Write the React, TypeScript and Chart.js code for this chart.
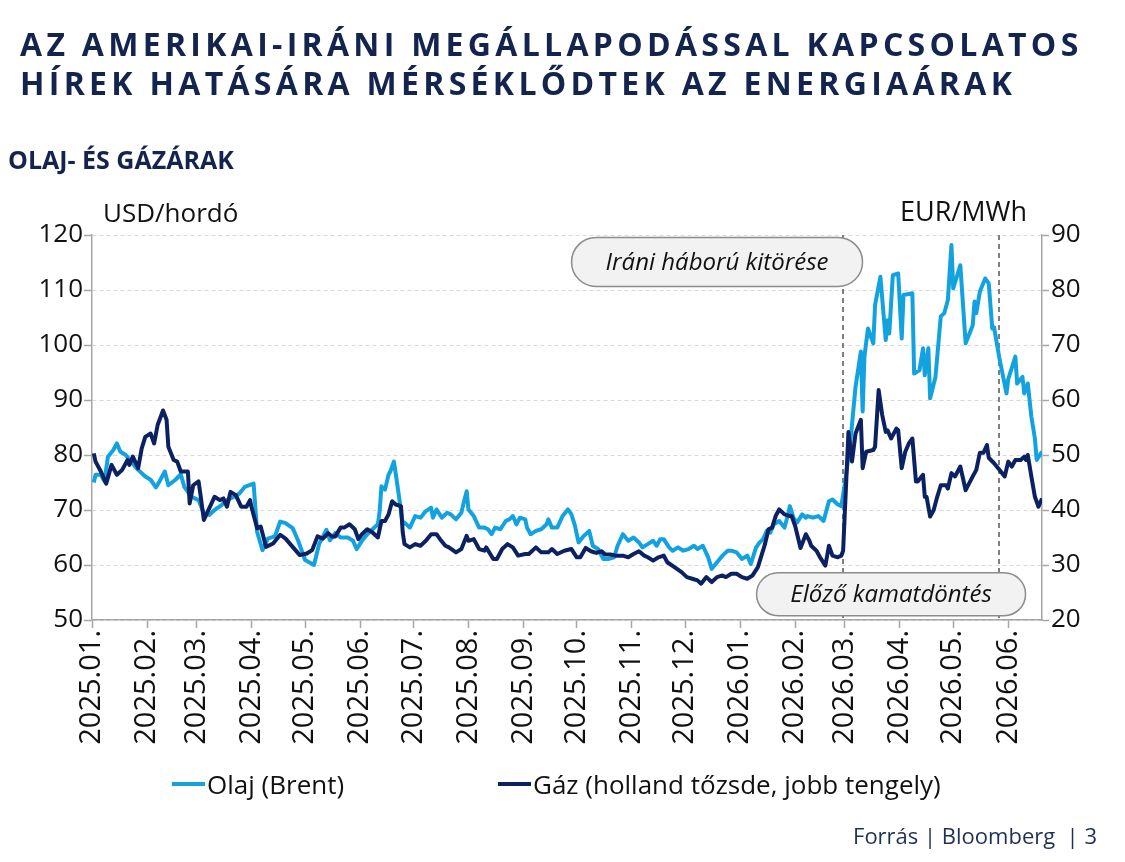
import React, { useEffect, useRef } from "react";
import { Chart, registerables } from "chart.js";

Chart.register(...registerables);

// ---------- texts ----------
const titleLines = [
  "AZ AMERIKAI-IRÁNI MEGÁLLAPODÁSSAL KAPCSOLATOS",
  "HÍREK HATÁSÁRA MÉRSÉKLŐDTEK AZ ENERGIAÁRAK",
];
const subtitle = "OLAJ- ÉS GÁZÁRAK";
const leftUnit = "USD/hordó";
const rightUnit = "EUR/MWh";
const oilLabel = "Olaj (Brent)";
const gasLabel = "Gáz (holland tőzsde, jobb tengely)";
const sourceText = "Forrás | Bloomberg  | 3";

// ---------- axes ----------
const leftTicks = [50, 60, 70, 80, 90, 100, 110, 120];
const rightTicks = [20, 30, 40, 50, 60, 70, 80, 90];
const monthTicks = [
  "2025-01-01", "2025-02-01", "2025-03-01", "2025-04-01", "2025-05-01", "2025-06-01",
  "2025-07-01", "2025-08-01", "2025-09-01", "2025-10-01", "2025-11-01", "2025-12-01",
  "2026-01-01", "2026-02-01", "2026-03-01", "2026-04-01", "2026-05-01", "2026-06-01",
];
const xStart = "2025-01-01";
const xEnd = "2026-06-20";

// ---------- events ----------
const eventDates = ["2026-02-28", "2026-05-27"];
const annotationTexts = ["Iráni háború kitörése", "Előző kamatdöntés"];
const annotationDates = ["2025-12-19", "2026-03-27"];
const annotationValues = [115.1, 54.7];

// ---------- data: Brent (USD/barrel) ----------
const oilSeries: [string, number][] = [
  ["2025-01-02", 75.0], ["2025-01-03", 76.4], ["2025-01-06", 76.4], ["2025-01-08", 75.2],
  ["2025-01-10", 79.7], ["2025-01-13", 80.9], ["2025-01-15", 82.1], ["2025-01-17", 80.6],
  ["2025-01-20", 80.0], ["2025-01-23", 78.8], ["2025-01-27", 77.3], ["2025-01-31", 76.1],
  ["2025-02-03", 75.5], ["2025-02-06", 74.1], ["2025-02-08", 75.2], ["2025-02-11", 77.0],
  ["2025-02-13", 74.5], ["2025-02-17", 75.5], ["2025-02-20", 76.5], ["2025-02-22", 74.2],
  ["2025-02-26", 72.4], ["2025-03-02", 71.8], ["2025-03-05", 69.4], ["2025-03-08", 69.1],
  ["2025-03-11", 70.0], ["2025-03-15", 70.9], ["2025-03-18", 71.8], ["2025-03-22", 72.4],
  ["2025-03-25", 73.0], ["2025-03-28", 74.2], ["2025-04-02", 74.8], ["2025-04-04", 66.0],
  ["2025-04-07", 62.7], ["2025-04-10", 64.8], ["2025-04-14", 65.2], ["2025-04-17", 67.9],
  ["2025-04-20", 67.6], ["2025-04-24", 66.7], ["2025-04-27", 64.5], ["2025-05-01", 60.9],
  ["2025-05-06", 60.0], ["2025-05-09", 63.9], ["2025-05-13", 66.4], ["2025-05-15", 64.5],
  ["2025-05-18", 65.8], ["2025-05-21", 65.0], ["2025-05-25", 65.0], ["2025-05-28", 64.4],
  ["2025-05-30", 62.9], ["2025-06-02", 64.4], ["2025-06-05", 65.6], ["2025-06-08", 66.5],
  ["2025-06-11", 67.4], ["2025-06-12", 69.8], ["2025-06-13", 74.3], ["2025-06-15", 73.7],
  ["2025-06-17", 76.4], ["2025-06-18", 77.0], ["2025-06-20", 78.8], ["2025-06-21", 76.7],
  ["2025-06-23", 72.2], ["2025-06-25", 67.4], ["2025-06-26", 67.7], ["2025-06-29", 66.8],
  ["2025-07-02", 68.9], ["2025-07-05", 68.6], ["2025-07-08", 69.8], ["2025-07-11", 70.4],
  ["2025-07-12", 68.6], ["2025-07-14", 70.1], ["2025-07-17", 68.6], ["2025-07-20", 69.5],
  ["2025-07-22", 69.2], ["2025-07-25", 68.3], ["2025-07-28", 69.5], ["2025-07-30", 72.2],
  ["2025-07-31", 73.4], ["2025-08-01", 70.1], ["2025-08-04", 68.9], ["2025-08-07", 66.8],
  ["2025-08-10", 66.8], ["2025-08-12", 66.5], ["2025-08-14", 65.6], ["2025-08-16", 66.8],
  ["2025-08-19", 66.5], ["2025-08-22", 68.0], ["2025-08-24", 68.3], ["2025-08-26", 68.9],
  ["2025-08-28", 67.4], ["2025-08-30", 68.6], ["2025-09-02", 68.3], ["2025-09-03", 66.8],
  ["2025-09-05", 65.6], ["2025-09-08", 66.2], ["2025-09-11", 66.5], ["2025-09-14", 67.4],
  ["2025-09-15", 68.3], ["2025-09-17", 66.8], ["2025-09-20", 66.8], ["2025-09-23", 68.9],
  ["2025-09-26", 70.1], ["2025-09-28", 69.2], ["2025-09-30", 67.1], ["2025-10-02", 64.1],
  ["2025-10-05", 65.3], ["2025-10-08", 66.2], ["2025-10-10", 63.5], ["2025-10-13", 62.9],
  ["2025-10-16", 61.1], ["2025-10-19", 61.1], ["2025-10-22", 61.4], ["2025-10-24", 63.5],
  ["2025-10-27", 65.6], ["2025-10-30", 64.4], ["2025-11-02", 65.0], ["2025-11-05", 64.1],
  ["2025-11-07", 63.2], ["2025-11-10", 63.8], ["2025-11-13", 64.4], ["2025-11-15", 63.5],
  ["2025-11-17", 64.7], ["2025-11-19", 64.7], ["2025-11-22", 63.2], ["2025-11-24", 62.6],
  ["2025-11-27", 63.2], ["2025-11-30", 62.6], ["2025-12-03", 62.9], ["2025-12-06", 63.5],
  ["2025-12-08", 62.9], ["2025-12-11", 63.5], ["2025-12-14", 61.4], ["2025-12-16", 59.3],
  ["2025-12-19", 60.5], ["2025-12-22", 61.7], ["2025-12-25", 62.6], ["2025-12-27", 62.6],
  ["2025-12-30", 62.3], ["2026-01-02", 61.1], ["2026-01-05", 61.7], ["2026-01-07", 60.2],
  ["2026-01-10", 63.2], ["2026-01-12", 64.1], ["2026-01-14", 64.7], ["2026-01-16", 66.2],
  ["2026-01-18", 65.9], ["2026-01-20", 67.4], ["2026-01-23", 68.0], ["2026-01-26", 66.8],
  ["2026-01-28", 69.2], ["2026-01-29", 70.7], ["2026-01-31", 68.6], ["2026-02-02", 67.7],
  ["2026-02-05", 69.2], ["2026-02-07", 68.6], ["2026-02-08", 68.9], ["2026-02-11", 68.6],
  ["2026-02-14", 68.9], ["2026-02-17", 68.0], ["2026-02-20", 71.6], ["2026-02-22", 71.9],
  ["2026-02-25", 71.0], ["2026-02-27", 70.7], ["2026-03-01", 74.8], ["2026-03-04", 82.1],
  ["2026-03-07", 92.4], ["2026-03-10", 98.8], ["2026-03-11", 87.9], ["2026-03-12", 97.9],
  ["2026-03-14", 103.0], ["2026-03-17", 100.3], ["2026-03-18", 107.3], ["2026-03-21", 112.4],
  ["2026-03-24", 100.9], ["2026-03-25", 104.5], ["2026-03-26", 102.1], ["2026-03-28", 112.7],
  ["2026-03-31", 113.0], ["2026-04-02", 101.2], ["2026-04-03", 109.1], ["2026-04-08", 109.4],
  ["2026-04-09", 94.8], ["2026-04-12", 95.4], ["2026-04-14", 99.4], ["2026-04-15", 94.5],
  ["2026-04-17", 99.4], ["2026-04-18", 90.3], ["2026-04-21", 94.2], ["2026-04-24", 105.2],
  ["2026-04-26", 105.8], ["2026-04-28", 108.2], ["2026-04-30", 118.2], ["2026-05-01", 110.3],
  ["2026-05-05", 114.5], ["2026-05-08", 100.3], ["2026-05-12", 103.6], ["2026-05-13", 107.9],
  ["2026-05-14", 105.8], ["2026-05-16", 109.7], ["2026-05-19", 112.1], ["2026-05-21", 111.2],
  ["2026-05-23", 103.0], ["2026-05-24", 103.2], ["2026-05-27", 97.6], ["2026-05-31", 91.2],
  ["2026-06-01", 93.8], ["2026-06-05", 97.9], ["2026-06-06", 93.0], ["2026-06-09", 94.2],
  ["2026-06-10", 91.2], ["2026-06-12", 93.0], ["2026-06-14", 87.0], ["2026-06-16", 83.0],
  ["2026-06-17", 79.1], ["2026-06-20", 80.6],
];

// ---------- data: Dutch TTF gas (EUR/MWh) ----------
const gasSeries: [string, number][] = [
  ["2025-01-02", 50.3], ["2025-01-03", 48.8], ["2025-01-06", 47.0], ["2025-01-09", 44.8],
  ["2025-01-12", 48.2], ["2025-01-15", 46.4], ["2025-01-18", 47.3], ["2025-01-21", 49.1],
  ["2025-01-22", 48.2], ["2025-01-24", 49.7], ["2025-01-27", 47.6], ["2025-01-29", 51.2],
  ["2025-01-31", 53.3], ["2025-02-03", 53.9], ["2025-02-05", 52.1], ["2025-02-07", 55.5],
  ["2025-02-10", 58.1], ["2025-02-12", 56.4], ["2025-02-13", 51.5], ["2025-02-16", 49.1],
  ["2025-02-18", 48.8], ["2025-02-20", 47.0], ["2025-02-24", 47.0], ["2025-02-25", 41.2],
  ["2025-02-27", 44.5], ["2025-03-02", 45.2], ["2025-03-03", 43.0], ["2025-03-05", 38.2],
  ["2025-03-08", 40.3], ["2025-03-11", 42.4], ["2025-03-14", 41.8], ["2025-03-16", 42.1],
  ["2025-03-18", 40.6], ["2025-03-20", 43.3], ["2025-03-23", 42.7], ["2025-03-26", 40.6],
  ["2025-03-29", 40.6], ["2025-03-31", 41.8], ["2025-04-01", 40.3], ["2025-04-04", 36.7],
  ["2025-04-06", 37.0], ["2025-04-09", 33.3], ["2025-04-13", 33.9], ["2025-04-17", 35.5],
  ["2025-04-20", 34.8], ["2025-04-24", 33.3], ["2025-04-28", 31.8], ["2025-05-02", 32.1],
  ["2025-05-05", 32.7], ["2025-05-08", 35.2], ["2025-05-11", 34.8], ["2025-05-14", 35.8],
  ["2025-05-16", 35.2], ["2025-05-18", 35.2], ["2025-05-21", 36.8], ["2025-05-23", 36.8],
  ["2025-05-26", 37.4], ["2025-05-29", 36.5], ["2025-05-31", 34.7], ["2025-06-02", 35.6],
  ["2025-06-05", 36.5], ["2025-06-08", 35.9], ["2025-06-11", 35.0], ["2025-06-13", 38.0],
  ["2025-06-15", 38.0], ["2025-06-17", 39.2], ["2025-06-19", 41.6], ["2025-06-21", 41.0],
  ["2025-06-24", 40.7], ["2025-06-25", 35.9], ["2025-06-26", 33.8], ["2025-06-29", 33.2],
  ["2025-07-02", 33.8], ["2025-07-05", 33.5], ["2025-07-08", 34.4], ["2025-07-11", 35.6],
  ["2025-07-14", 35.6], ["2025-07-16", 34.7], ["2025-07-19", 33.5], ["2025-07-21", 33.2],
  ["2025-07-25", 32.3], ["2025-07-28", 32.9], ["2025-07-31", 35.3], ["2025-08-01", 34.4],
  ["2025-08-04", 34.7], ["2025-08-07", 32.9], ["2025-08-10", 32.6], ["2025-08-11", 33.2],
  ["2025-08-15", 31.1], ["2025-08-17", 31.1], ["2025-08-20", 32.9], ["2025-08-23", 33.8],
  ["2025-08-26", 33.2], ["2025-08-29", 31.7], ["2025-09-02", 32.0], ["2025-09-04", 32.0],
  ["2025-09-08", 33.2], ["2025-09-11", 32.3], ["2025-09-15", 32.3], ["2025-09-17", 32.9],
  ["2025-09-20", 32.0], ["2025-09-24", 32.6], ["2025-09-28", 32.9], ["2025-10-01", 31.4],
  ["2025-10-03", 31.4], ["2025-10-06", 33.1], ["2025-10-09", 32.5], ["2025-10-12", 32.2],
  ["2025-10-15", 32.5], ["2025-10-17", 31.9], ["2025-10-20", 31.9], ["2025-10-23", 31.7],
  ["2025-10-27", 31.7], ["2025-10-30", 31.4], ["2025-11-02", 32.0], ["2025-11-05", 32.5],
  ["2025-11-08", 31.7], ["2025-11-10", 31.4], ["2025-11-13", 30.8], ["2025-11-16", 31.4],
  ["2025-11-19", 31.7], ["2025-11-21", 30.5], ["2025-11-25", 29.6], ["2025-11-29", 28.7],
  ["2025-12-02", 27.8], ["2025-12-05", 27.5], ["2025-12-08", 27.2], ["2025-12-10", 26.6],
  ["2025-12-13", 27.8], ["2025-12-16", 26.9], ["2025-12-19", 27.8], ["2025-12-22", 28.1],
  ["2025-12-24", 27.8], ["2025-12-27", 28.4], ["2025-12-30", 28.4], ["2026-01-02", 27.8],
  ["2026-01-05", 27.5], ["2026-01-08", 28.1], ["2026-01-11", 29.6], ["2026-01-13", 31.7],
  ["2026-01-15", 33.8], ["2026-01-17", 36.5], ["2026-01-19", 36.8], ["2026-01-21", 38.9],
  ["2026-01-23", 40.1], ["2026-01-26", 39.2], ["2026-01-29", 38.9], ["2026-01-30", 38.9],
  ["2026-02-01", 37.1], ["2026-02-04", 33.1], ["2026-02-07", 35.6], ["2026-02-09", 34.4],
  ["2026-02-10", 33.5], ["2026-02-13", 32.6], ["2026-02-15", 31.4], ["2026-02-18", 29.9],
  ["2026-02-20", 33.5], ["2026-02-22", 31.7], ["2026-02-25", 31.4], ["2026-02-27", 31.7],
  ["2026-02-28", 32.6], ["2026-03-03", 54.2], ["2026-03-05", 48.8], ["2026-03-07", 53.9],
  ["2026-03-10", 56.4], ["2026-03-11", 47.6], ["2026-03-13", 50.6], ["2026-03-17", 50.9],
  ["2026-03-18", 51.5], ["2026-03-20", 61.8], ["2026-03-22", 57.3], ["2026-03-24", 54.2],
  ["2026-03-25", 54.5], ["2026-03-27", 53.0], ["2026-03-30", 54.8], ["2026-03-31", 54.5],
  ["2026-04-02", 47.6], ["2026-04-04", 50.6], ["2026-04-06", 52.1], ["2026-04-08", 53.0],
  ["2026-04-10", 45.2], ["2026-04-11", 45.2], ["2026-04-14", 46.4], ["2026-04-15", 42.4],
  ["2026-04-16", 42.4], ["2026-04-18", 38.8], ["2026-04-20", 40.0], ["2026-04-22", 42.4],
  ["2026-04-24", 44.5], ["2026-04-27", 44.5], ["2026-04-28", 43.9], ["2026-04-30", 46.7],
  ["2026-05-02", 46.1], ["2026-05-05", 47.9], ["2026-05-08", 43.6], ["2026-05-12", 46.1],
  ["2026-05-14", 47.3], ["2026-05-16", 50.4], ["2026-05-18", 50.4], ["2026-05-20", 51.8],
  ["2026-05-21", 49.5], ["2026-05-24", 48.5], ["2026-05-27", 47.3], ["2026-05-30", 46.1],
  ["2026-06-01", 48.8], ["2026-06-03", 47.9], ["2026-06-05", 49.1], ["2026-06-08", 49.1],
  ["2026-06-10", 49.7], ["2026-06-11", 49.1], ["2026-06-12", 50.0], ["2026-06-14", 46.1],
  ["2026-06-16", 42.4], ["2026-06-18", 40.6], ["2026-06-20", 42.1],
];

// ---------- styles ----------
const FONT = '"Open Sans", "DejaVu Sans", sans-serif';
const NAVY = "#13244F";
const OIL_COLOR = "#12A2DF";
const GAS_COLOR = "#0C2161";
const AXIS_GRAY = "#A6A6A6";
const GRID_GRAY = "#D9D9D9";
const pillSizes: [number, number][] = [[291, 49], [269, 43]];

const BASE = Date.UTC(2025, 0, 1);
const dayIndex = (iso: string) => (Date.parse(iso + "T00:00:00Z") - BASE) / 86400000;
const fmtMonth = (v: number) => {
  const d = new Date(BASE + Math.round(v) * 86400000);
  return `${d.getUTCFullYear()}.${String(d.getUTCMonth() + 1).padStart(2, "0")}.`;
};

const eventPlugin = {
  id: "eventMarks",
  beforeDatasetsDraw(chart: any) {
    const { ctx, chartArea, scales } = chart;
    ctx.save();
    ctx.strokeStyle = "#7F7F7F";
    ctx.lineWidth = 2;
    ctx.setLineDash([5, 4]);
    for (const d of eventDates) {
      const x = Math.round(scales.x.getPixelForValue(dayIndex(d)));
      ctx.beginPath();
      ctx.moveTo(x, chartArea.top);
      ctx.lineTo(x, chartArea.bottom);
      ctx.stroke();
    }
    ctx.restore();
  },
  afterDatasetsDraw(chart: any) {
    const { ctx, scales } = chart;
    ctx.save();
    annotationTexts.forEach((t, i) => {
      const cx = scales.x.getPixelForValue(dayIndex(annotationDates[i]));
      const cy = scales.y.getPixelForValue(annotationValues[i]);
      const [w, h] = pillSizes[i];
      ctx.beginPath();
      ctx.roundRect(cx - w / 2, cy - h / 2, w, h, h / 2);
      ctx.fillStyle = "#F2F2F2";
      ctx.fill();
      ctx.lineWidth = 1.5;
      ctx.strokeStyle = "#8C8C8C";
      ctx.stroke();
      ctx.fillStyle = "#111111";
      ctx.font = `italic 24px ${FONT}`;
      ctx.textAlign = "center";
      ctx.textBaseline = "middle";
      ctx.fillText(t, cx, cy + 1);
    });
    ctx.restore();
  },
};

export default function App() {
  const canvasRef = useRef<HTMLCanvasElement | null>(null);

  useEffect(() => {
    if (!canvasRef.current) return;
    const chart = new Chart(canvasRef.current, {
      type: "line",
      data: {
        datasets: [
          {
            label: oilLabel,
            data: oilSeries.map(([d, v]) => ({ x: dayIndex(d), y: v })),
            borderColor: OIL_COLOR,
            backgroundColor: OIL_COLOR,
            borderWidth: 4,
            pointRadius: 0,
            tension: 0,
            borderJoinStyle: "round",
            yAxisID: "y",
            order: 2,
          },
          {
            label: gasLabel,
            data: gasSeries.map(([d, v]) => ({ x: dayIndex(d), y: v })),
            borderColor: GAS_COLOR,
            backgroundColor: GAS_COLOR,
            borderWidth: 4,
            pointRadius: 0,
            tension: 0,
            borderJoinStyle: "round",
            yAxisID: "y2",
            order: 1,
          },
        ],
      },
      options: {
        animation: false,
        responsive: false,
        devicePixelRatio: 1,
        layout: { padding: { top: 235, bottom: 92, left: 0, right: 0 } },
        plugins: { legend: { display: false }, tooltip: { enabled: false } },
        scales: {
          x: {
            type: "linear",
            min: dayIndex(xStart),
            max: dayIndex(xEnd),
            afterBuildTicks: (s: any) => {
              s.ticks = monthTicks.map((d) => ({ value: dayIndex(d) }));
            },
            afterFit: (s: any) => {
              s.height = 150;
            },
            ticks: {
              autoSkip: false,
              minRotation: 90,
              maxRotation: 90,
              padding: 2,
              color: "#111111",
              font: { family: FONT, size: 29 },
              callback: (v: any) => fmtMonth(Number(v)),
            },
            grid: {
              drawOnChartArea: false,
              drawTicks: true,
              tickLength: 8,
              tickColor: AXIS_GRAY,
              tickWidth: 1.5,
            },
            border: { display: true, color: AXIS_GRAY, width: 1.5 },
          },
          y: {
            type: "linear",
            position: "left",
            min: leftTicks[0],
            max: leftTicks[leftTicks.length - 1],
            afterBuildTicks: (s: any) => {
              s.ticks = leftTicks.map((v) => ({ value: v }));
            },
            afterFit: (s: any) => {
              s.width = 92;
            },
            ticks: {
              padding: 1,
              color: "#111111",
              font: { family: FONT, size: 26 },
            },
            grid: {
              color: GRID_GRAY,
              lineWidth: 1,
              tickLength: 8,
              tickColor: AXIS_GRAY,
              tickWidth: 1.5,
            },
            border: { display: true, color: AXIS_GRAY, width: 1.5, dash: [4, 3] },
          },
          y2: {
            type: "linear",
            position: "right",
            min: rightTicks[0],
            max: rightTicks[rightTicks.length - 1],
            afterBuildTicks: (s: any) => {
              s.ticks = rightTicks.map((v) => ({ value: v }));
            },
            afterFit: (s: any) => {
              s.width = 83;
            },
            ticks: {
              padding: 2,
              color: "#111111",
              font: { family: FONT, size: 26 },
            },
            grid: {
              drawOnChartArea: false,
              tickLength: 7,
              tickColor: AXIS_GRAY,
              tickWidth: 1.5,
            },
            border: { display: true, color: AXIS_GRAY, width: 1.5 },
          },
        },
      },
      plugins: [eventPlugin],
    } as any);
    return () => chart.destroy();
  }, []);

  return (
    <div
      style={{
        position: "absolute",
        left: 0,
        top: 0,
        width: 1125,
        height: 862,
        background: "#FFFFFF",
        fontFamily: FONT,
        overflow: "hidden",
      }}
    >
      <canvas
        ref={canvasRef}
        width={1125}
        height={862}
        style={{ position: "absolute", left: 0, top: 0, width: 1125, height: 862 }}
      />
      <div
        style={{
          position: "absolute",
          left: 20,
          top: 24,
          fontSize: 32,
          fontWeight: 700,
          letterSpacing: "4.3px",
          lineHeight: "39px",
          color: NAVY,
          whiteSpace: "nowrap",
        }}
      >
        {titleLines.map((l) => (
          <div key={l}>{l}</div>
        ))}
      </div>
      <div
        style={{
          position: "absolute",
          left: 8,
          top: 142,
          fontSize: 25,
          fontWeight: 700,
          lineHeight: "34px",
          color: NAVY,
          whiteSpace: "nowrap",
        }}
      >
        {subtitle}
      </div>
      <div
        style={{
          position: "absolute",
          left: 103,
          top: 194,
          fontSize: 26,
          lineHeight: "36px",
          color: "#111111",
          whiteSpace: "nowrap",
        }}
      >
        {leftUnit}
      </div>
      <div
        style={{
          position: "absolute",
          right: 1125 - 1027,
          top: 193,
          fontSize: 27,
          lineHeight: "36px",
          color: "#111111",
          whiteSpace: "nowrap",
        }}
      >
        {rightUnit}
      </div>
      <div
        style={{
          position: "absolute",
          left: 172,
          top: 767,
          display: "flex",
          alignItems: "center",
          fontSize: 26,
          lineHeight: "34px",
          color: "#111111",
          whiteSpace: "nowrap",
        }}
      >
        <span style={{ display: "inline-block", width: 33, height: 4, background: OIL_COLOR, marginRight: 2 }} />
        {oilLabel}
      </div>
      <div
        style={{
          position: "absolute",
          left: 498,
          top: 767,
          display: "flex",
          alignItems: "center",
          fontSize: 26,
          lineHeight: "34px",
          color: "#111111",
          whiteSpace: "nowrap",
        }}
      >
        <span style={{ display: "inline-block", width: 33, height: 4, background: GAS_COLOR, marginRight: 2 }} />
        {gasLabel}
      </div>
      <div
        style={{
          position: "absolute",
          right: 1125 - 1097,
          top: 820,
          fontSize: 22,
          lineHeight: "30px",
          color: "#1F2F55",
          whiteSpace: "pre",
        }}
      >
        {sourceText}
      </div>
    </div>
  );
}
